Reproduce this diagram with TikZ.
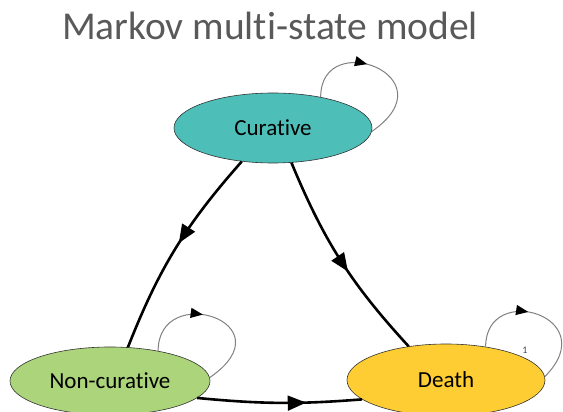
\documentclass[tikz,border=0pt]{standalone}
\usepackage{fontspec}
\setmainfont{Carlito}[Ligatures=NoCommon]
\usepackage{xcolor}
\usetikzlibrary{arrows}
\usetikzlibrary{shapes.geometric, positioning, decorations.markings}

\definecolor{curfill}{HTML}{4DBFB8}
\definecolor{noncurfill}{HTML}{ABD47B}
\definecolor{deathfill}{HTML}{FDCD33}
\definecolor{titlegray}{HTML}{595959}
\definecolor{probtext}{HTML}{3C4A5C}

\begin{document}
\begin{tikzpicture}[x=1pt, y=1pt,
    state/.style={ellipse, draw=black!80, line width=0.6pt, inner sep=0pt, font=\fontsize{23}{27}\selectfont},
    trans/.style={line width=2.6pt},
    selfloop/.style={draw=black!50, line width=1pt},
    midarrow/.style={postaction={decorate}, decoration={markings, mark=at position #1 with {\arrow[scale=1.2]{triangle 45}}}},
    looparrow/.style={postaction={decorate}, decoration={markings, mark=at position #1 with {\arrow[black, scale=1.4]{triangle 45}}}}]

      \useasboundingbox (0, 0) rectangle (563, 412);

      \node[titlegray, anchor=base, font=\fontsize{39.5}{44}\selectfont] (title) at (270, 372) {Markov multi-state model};

      \node[state, fill=curfill, minimum width=198, minimum height=70] (cur) at (273, 284) {Curative};
      \node[state, fill=noncurfill, minimum width=200, minimum height=68] (non) at (110, 31) {Non-curative};
      \node[state, fill=deathfill, minimum width=198, minimum height=72] (death) at (446, 32) {Death};

      % transitions between states
      \draw[trans, midarrow=0.47] (cur.227) to[bend right=10] (non.62);
      \draw[trans, midarrow=0.56] (cur.298) to[bend right=10] (death.138);
      \draw[trans, midarrow=0.66] (non.-11) to[bend right=5] (death.193);

      % staying in the same state
      \draw[selfloop, looparrow=0.42] (cur.33) .. controls +(0, 70) and +(80, 55) .. (cur.-2);
      \draw[selfloop, looparrow=0.42] (non.32) .. controls +(0, 70) and +(80, 55) .. (non.2);
      \draw[selfloop, looparrow=0.42] (death.40) .. controls +(0, 66) and +(60, 60) .. (death.2);
      \node[probtext, font=\fontsize{10}{12}\selectfont] (p) at (525, 62) {1};
    \end{tikzpicture}
\end{document}
